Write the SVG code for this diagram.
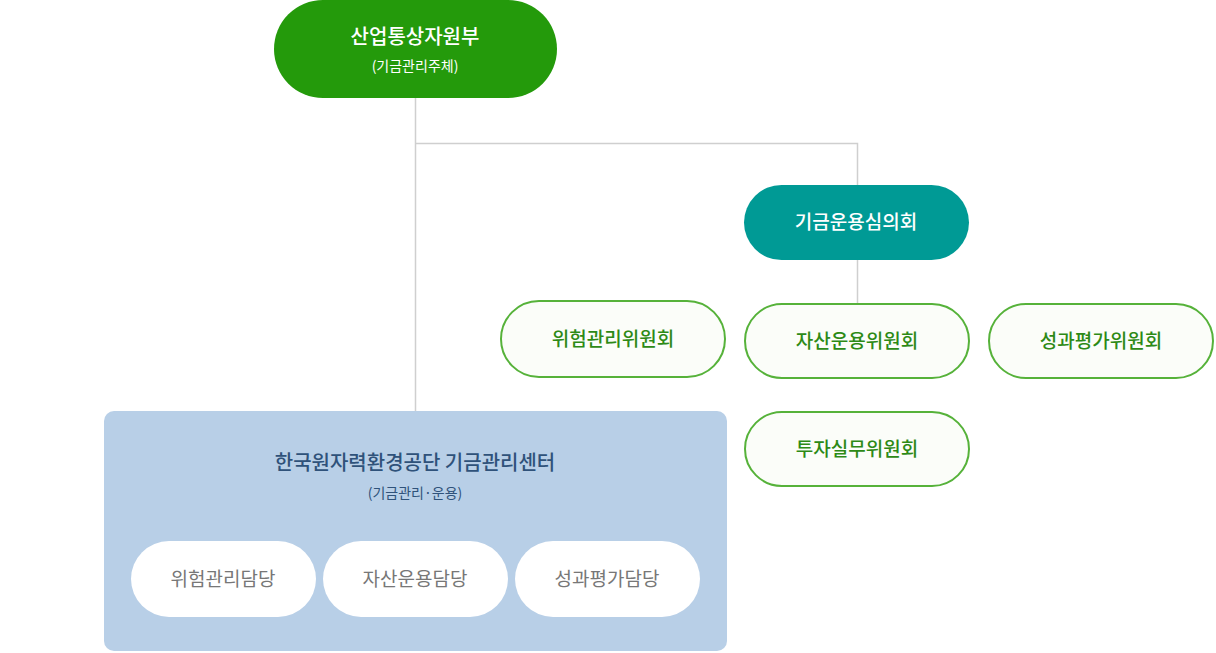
<svg xmlns="http://www.w3.org/2000/svg" width="1216" height="653" viewBox="0 0 1216 653">
<style>
text{font-family:"Noto Sans CJK KR","Noto Sans",sans-serif;text-anchor:middle}
.w{fill:#fff}
.g rect{fill:#fbfdf9;stroke:#56b23a;stroke-width:2}
.g text{fill:#2d8a16;font-size:19px;font-weight:500}
.p rect{fill:#fff}
.p text{fill:#777;font-size:19px}
</style>
<rect width="1216" height="653" fill="#fff"/>
<g id="connectors" fill="none" stroke="#cfcfcf" stroke-width="1.5">
<path d="M415.5 98V411M415.5 143.5H857.5V185M857.5 260V303"/>
</g>
<g id="n1"><rect x="274" y="0" width="283" height="98" rx="49" fill="#249a0b"/>
<text x="415" y="44" class="w" font-size="20" font-weight="500">산업통상자원부</text>
<text x="415" y="71" class="w" font-size="14">(기금관리주체)</text></g>
<g id="n2"><rect x="744" y="185" width="225" height="75" rx="37.5" fill="#009a95"/>
<text x="856" y="229" class="w" font-size="19" font-weight="500">기금운용심의회</text></g>
<g id="n3" class="g"><rect x="501" y="301" width="224" height="76" rx="38"/><text x="613" y="346">위험관리위원회</text></g>
<g id="n4" class="g"><rect x="745" y="304" width="224" height="74" rx="37"/><text x="857" y="348">자산운용위원회</text></g>
<g id="n5" class="g"><rect x="989" y="304" width="224" height="74" rx="37"/><text x="1101" y="348">성과평가위원회</text></g>
<g id="n6" class="g"><rect x="745" y="412" width="224" height="74" rx="37"/><text x="857" y="456">투자실무위원회</text></g>
<g id="n7"><rect x="104" y="411" width="623" height="240" rx="10" fill="#b8cfe7"/>
<text x="415" y="470" font-size="20" font-weight="500" fill="#2f527a">한국원자력환경공단 기금관리센터</text>
<text x="415" y="498" font-size="14" fill="#2f527a">(기금관리·운용)</text></g>
<g id="n8" class="p"><rect x="131" y="541" width="185" height="76" rx="38"/><text x="223" y="586">위험관리담당</text></g>
<g id="n9" class="p"><rect x="323" y="541" width="185" height="76" rx="38"/><text x="415" y="586">자산운용담당</text></g>
<g id="n10" class="p"><rect x="515" y="541" width="185" height="76" rx="38"/><text x="607" y="586">성과평가담당</text></g>
</svg>
